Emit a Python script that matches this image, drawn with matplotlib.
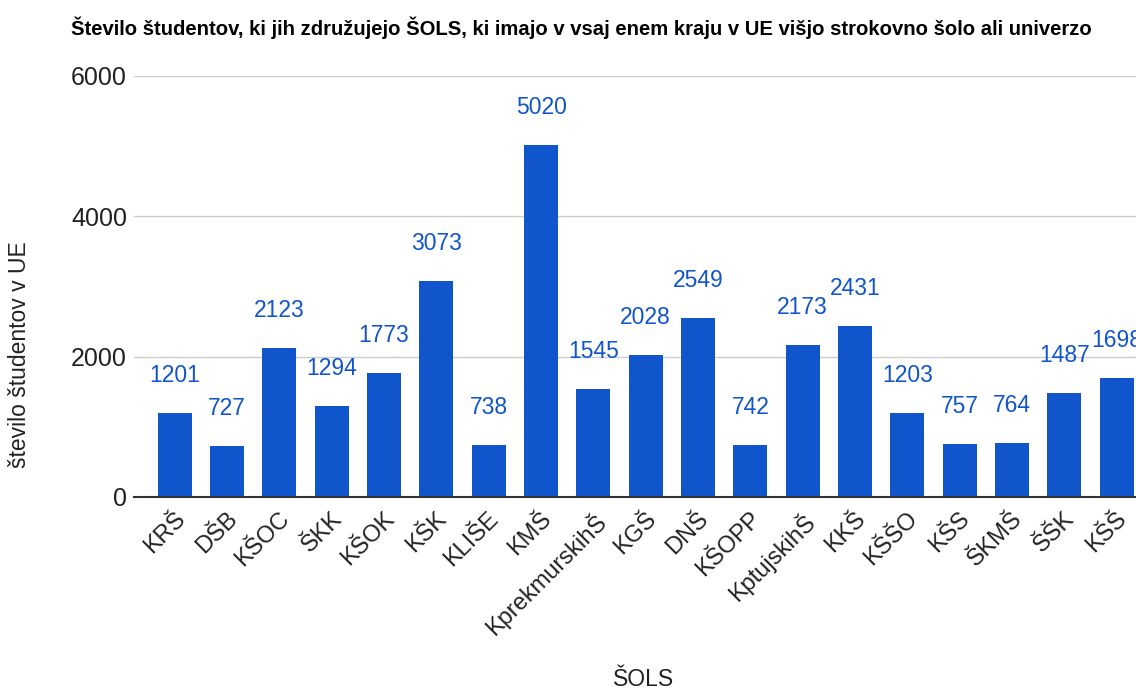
import matplotlib
matplotlib.use("Agg")
import matplotlib.pyplot as plt
from matplotlib.transforms import ScaledTranslation

# data
schools = ["KRŠ", "DŠB", "KŠOC", "ŠKK", "KŠOK", "KŠK", "KLIŠE", "KMŠ",
           "KprekmurskihŠ", "KGŠ", "DNŠ", "KŠOPP", "KptujskihŠ", "KKŠ",
           "KŠŠO", "KŠS", "ŠKMŠ", "ŠŠK", "KŠŠ"]
students = [1201, 727, 2123, 1294, 1773, 3073, 738, 5020,
            1545, 2028, 2549, 742, 2173, 2431,
            1203, 757, 764, 1487, 1698]
yticks = [0, 2000, 4000, 6000]

BLUE = "#1155cc"
W, H = 1136, 693

plt.rcParams["font.family"] = ["Liberation Sans", "DejaVu Sans"]

fig = plt.figure(figsize=(W / 100, H / 100), dpi=100)
ax = fig.add_axes([134 / W, 1 - 497 / H, (W - 134) / W, (497 - 76) / H])

x = list(range(len(schools)))
ax.bar(x, students, width=0.65, color=BLUE, zorder=3)

for xi, v in zip(x, students):
    ax.annotate(str(v), (xi, v), xytext=(0, 27), textcoords="offset points",
                ha="center", va="center", fontsize=16.5, color=BLUE,
                annotation_clip=False)

ax.set_xlim(-0.78, 18.37)
ax.set_ylim(0, 6000)
ax.set_yticks(yticks)
ax.set_yticklabels([str(t) for t in yticks], fontsize=18, color="#222222")
ax.grid(axis="y", color="#cccccc", linewidth=1, zorder=0)
ax.tick_params(axis="both", length=0)
ax.tick_params(axis="y", pad=5)
ax.tick_params(axis="x", pad=8)

ax.set_xticks(x)
ax.set_xticklabels(schools, rotation=45, ha="right", va="top",
                   rotation_mode="anchor", fontsize=17, color="#222222")
shift = ScaledTranslation(-1 / 100, 0, fig.dpi_scale_trans)
for lab in ax.get_xticklabels():
    lab.set_transform(lab.get_transform() + shift)

for s in ["top", "right", "left"]:
    ax.spines[s].set_visible(False)
ax.spines["bottom"].set_color("#333333")
ax.spines["bottom"].set_linewidth(1.5)
ax.spines["bottom"].set_zorder(4)

fig.text(581 / W, 1 - 28 / H,
         "Število študentov, ki jih združujejo ŠOLS, ki imajo v vsaj enem kraju v UE višjo strokovno šolo ali univerzo",
         ha="center", va="center", fontsize=14.6, weight="bold", color="#000000")
fig.text(20 / W, 1 - 355 / H, "število študentov v UE", rotation=90,
         ha="center", va="center", fontsize=16.5, color="#222222")
fig.text(644 / W, 1 - 680 / H, "ŠOLS", ha="center", va="center",
         fontsize=16.5, color="#222222")

fig.savefig("out.png", dpi=100)
